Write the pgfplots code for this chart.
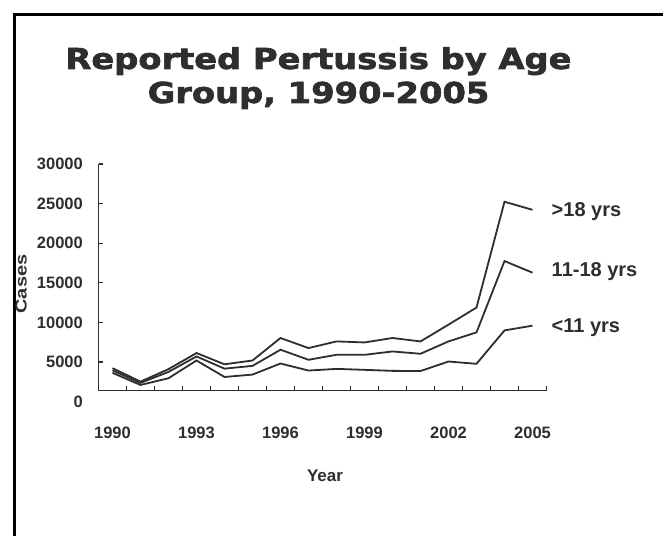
\documentclass[border=0pt]{standalone}
\usepackage{pgfplots}
\pgfplotsset{compat=1.18}
\usepackage{fontspec}
\setmainfont{Liberation Sans}
\newfontfamily\titlefont{DejaVu Sans}[BoldFeatures={FakeBold=2}]
\definecolor{ink}{HTML}{2E2E2E}
\begin{document}
\begin{tikzpicture}[x=1pt,y=1pt]
\useasboundingbox (0,0) rectangle (663,535);
\fill[white] (0,0) rectangle (663,535);
\draw[line width=3pt, black] (14.5,-5) -- (14.5,520.5) -- (670,520.5);
\node[anchor=base, font=\titlefont\bfseries\fontsize{28.8}{34}\selectfont, text=ink, inner sep=0pt] at (318.5,466) {\scalebox{1.17}[1]{Reported Pertussis by Age}};
\node[anchor=base, font=\titlefont\bfseries\fontsize{28.8}{34}\selectfont, text=ink, inner sep=0pt] at (318.5,432) {\scalebox{1.17}[1]{Group, 1990-2005}};
\begin{axis}[
  at={(98.5pt,144.5pt)}, anchor=south west,
  width=448pt, height=226.5pt, scale only axis,
  xmin=1989.5, xmax=2005.5, ymin=1390, ymax=30000,
  axis lines*=left,
  axis line style={ink, line width=1.4pt},
  tick align=inside,
  tick style={ink, line width=1.2pt},
  major tick length=5pt,
  xtick={1990.5,1991.5,1992.5,1993.5,1994.5,1995.5,1996.5,1997.5,1998.5,1999.5,2000.5,2001.5,2002.5,2003.5,2004.5,2005.5},
  xticklabels={},
  extra x ticks={1990,1993,1996,1999,2002,2005},
  extra x tick labels={1990,1993,1996,1999,2002,2005},
  extra x tick style={major tick length=0pt},
  scaled y ticks=false,
  ytick={5000,10000,15000,20000,25000,30000},
  yticklabels={5000,10000,15000,20000,25000,30000},
  extra y ticks={1390},
  extra y tick labels={0},
  extra y tick style={major tick length=0pt, yticklabel style={yshift=-11pt}},
  xticklabel style={anchor=north, inner sep=0pt, yshift=-36.5pt, font=\bfseries\fontsize{16.5}{20}\selectfont, text=ink},
  yticklabel style={anchor=east, inner sep=0pt, xshift=-15.5pt, font=\bfseries\fontsize{16.5}{20}\selectfont, text=ink},
  xlabel={Year},
  xlabel style={at={(axis description cs:0.5056,-0.3775)}, anchor=center, font=\bfseries\fontsize{17}{20}\selectfont, text=ink},
  ylabel={\scalebox{1.25}[1]{Cases}},
  ylabel style={at={(axis description cs:-0.173,0.47)}, anchor=center, font=\bfseries\fontsize{16}{20}\selectfont, text=ink},
  clip=false,
]
\addplot[ink, line width=1.8pt, no markers] coordinates {(1990,4210) (1991,2510) (1992,4090) (1993,6120) (1994,4700) (1995,5180) (1996,8020) (1997,6750) (1998,7590) (1999,7460) (2000,8020) (2001,7590) (2002,9710) (2003,11870) (2004,25230) (2005,24210)}
  node[pos=1, anchor=west, xshift=15pt, yshift=-2pt, font=\bfseries\fontsize{20}{24}\selectfont, text=ink] {>18 yrs};
\addplot[ink, line width=1.8pt, no markers] coordinates {(1990,3930) (1991,2350) (1992,3740) (1993,5690) (1994,4150) (1995,4500) (1996,6540) (1997,5270) (1998,5900) (1999,5900) (2000,6320) (2001,6030) (2002,7590) (2003,8730) (2004,17740) (2005,16270)}
  node[pos=1, anchor=west, xshift=15pt, yshift=1pt, font=\bfseries\fontsize{20}{24}\selectfont, text=ink] {11-18 yrs};
\addplot[ink, line width=1.8pt, no markers] coordinates {(1990,3620) (1991,2090) (1992,2940) (1993,5180) (1994,3100) (1995,3400) (1996,4800) (1997,3910) (1998,4120) (1999,4000) (2000,3870) (2001,3850) (2002,5050) (2003,4760) (2004,8980) (2005,9580)}
  node[pos=1, anchor=west, xshift=15pt, yshift=-2pt, font=\bfseries\fontsize{20}{24}\selectfont, text=ink] {<11 yrs};
\end{axis}
\end{tikzpicture}
\end{document}
